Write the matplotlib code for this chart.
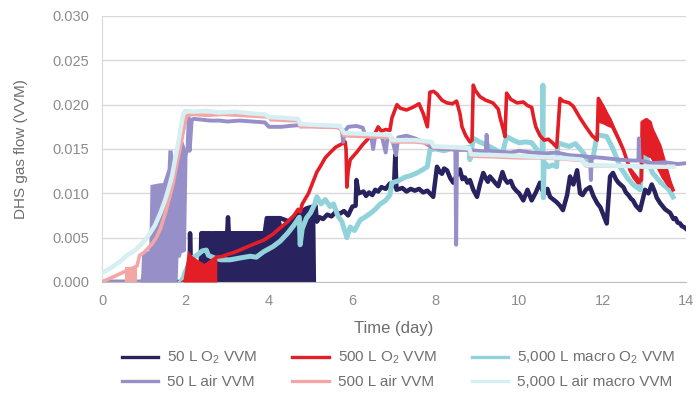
import numpy as np
import matplotlib
matplotlib.use("Agg")
import matplotlib.pyplot as plt
from matplotlib.lines import Line2D

plt.rcParams['font.family'] = ['Liberation Sans', 'DejaVu Sans']
plt.rcParams['mathtext.default'] = 'regular'

# ---- 50 L O2 VVM ----
o2_50_t = [0.0, 2.08, 2.10, 2.11, 2.13, 2.36, 2.38, 2.40, 2.43, 2.46, 2.48, 2.50, 2.54, 2.56, 2.58, 2.62, 2.64, 2.67, 2.70,
           3.0, 3.02, 3.04, 3.9, 3.95, 4.27, 4.5, 4.75, 4.9, 5.12,
           5.15, 5.22, 5.3, 5.4, 5.5, 5.6, 5.7, 5.8, 5.9, 6.0, 6.08, 6.1, 6.15, 6.27, 6.33, 6.4, 6.48, 6.55,
           6.62, 6.7, 6.8, 6.9, 7.0, 7.03, 7.06,
           7.2, 7.3, 7.4, 7.5, 7.6, 7.7, 7.8, 7.94, 8.03, 8.1, 8.15, 8.2, 8.27, 8.35, 8.42, 8.5, 8.58, 8.64,
           8.7, 8.76, 8.82, 8.9, 8.99, 9.06, 9.14, 9.2, 9.25, 9.3, 9.37, 9.44, 9.5,
           9.6, 9.66, 9.72, 9.8, 9.86, 9.93, 10.0, 10.1, 10.2, 10.3, 10.4, 10.5, 10.56, 10.62, 10.68, 10.74,
           10.82, 10.9, 10.98, 11.05, 11.15, 11.22, 11.3,
           11.39, 11.46, 11.52, 11.6, 11.7, 11.78, 11.87, 11.95, 12.0, 12.1, 12.18, 12.25, 12.32, 12.38,
           12.45, 12.5, 12.56, 12.62, 12.68, 12.73, 12.8, 12.9,
           13.02, 13.1, 13.18, 13.25, 13.3, 13.38, 13.45, 13.5, 13.56, 13.62, 13.7, 13.75, 13.8, 13.86,
           13.9, 13.95, 14.0]
o2_50_v = [0.0, 0.0, 0.0, 0.0055, 0.0012, 0.0008, 0.0055, 0.0010, 0.0055, 0.0011, 0.0055, 0.0012, 0.0055, 0.0015, 0.0055,
           0.0010, 0.0055, 0.0012, 0.0055,
           0.0055, 0.0073, 0.0055, 0.0055, 0.0072, 0.0072, 0.0068, 0.0078, 0.0083, 0.0086,
           0.0068, 0.0073, 0.0071, 0.0076, 0.0074, 0.0079, 0.0077, 0.0080, 0.0075, 0.0085, 0.0086, 0.0115,
           0.0100, 0.0102, 0.0097, 0.0101, 0.0098, 0.0104,
           0.0102, 0.0107, 0.0105, 0.0111, 0.0108, 0.0143, 0.0104,
           0.0106, 0.0102, 0.0105, 0.0103, 0.0105, 0.0101, 0.0103, 0.0096, 0.0130, 0.0124, 0.0122, 0.0128,
           0.0126, 0.0117, 0.0112, 0.0120, 0.0127, 0.0116,
           0.0118, 0.0112, 0.0115, 0.0104, 0.0096, 0.0110, 0.0123, 0.0117, 0.0113, 0.0119, 0.0115, 0.0111,
           0.0108,
           0.0124, 0.0116, 0.0112, 0.0114, 0.0107, 0.0103, 0.0100, 0.0092, 0.0104, 0.0092, 0.0101, 0.0112,
           0.0103, 0.0100, 0.0105, 0.0096,
           0.0093, 0.0090, 0.0086, 0.0081, 0.0098, 0.0119, 0.0110,
           0.0126, 0.0100, 0.0098, 0.0104, 0.0107, 0.0097, 0.0089, 0.0084, 0.0078, 0.0066, 0.0119, 0.0123,
           0.0116, 0.0112, 0.0109, 0.0107, 0.0101, 0.0098, 0.0094, 0.0092, 0.0086, 0.0081,
           0.0104, 0.0100, 0.0110, 0.0102, 0.0095, 0.0089, 0.0085, 0.0082, 0.0080, 0.0078, 0.0071, 0.0072,
           0.0067, 0.0066, 0.0063, 0.0062, 0.0060]
o2_50_band_t = [2.70, 3.0, 3.02, 3.04, 3.9, 3.95, 4.27, 4.3, 4.5, 4.75, 4.9, 5.1, 5.12]
o2_50_band_hi = [0.0055, 0.0055, 0.0073, 0.0055, 0.0055, 0.0072, 0.0072, 0.0065, 0.0068, 0.0078, 0.0083, 0.0086, 0.0]

# ---- 500 L O2 VVM ----
o2_500_t = [1.95, 2.75, 2.9, 3.0, 3.15, 3.3, 3.45, 3.55, 3.7, 3.87, 4.0, 4.1, 4.27, 4.45, 4.6, 4.7, 4.75, 4.8,
            4.95, 5.05, 5.15,
            5.23, 5.35, 5.47, 5.6, 5.72, 5.83, 5.85, 5.87, 5.9, 5.95, 6.1, 6.25, 6.35, 6.45, 6.55, 6.62, 6.7,
            6.8, 6.9, 6.95, 7.07, 7.15, 7.3, 7.45, 7.6, 7.7, 7.8, 7.86, 7.95, 8.03, 8.15, 8.27, 8.4, 8.5,
            8.58, 8.63, 8.72, 8.82, 8.87, 8.9, 8.95, 9.06, 9.2, 9.37, 9.5, 9.54, 9.62, 9.66, 9.7, 9.8, 9.95,
            10.1, 10.2, 10.3, 10.35, 10.4, 10.5, 10.6, 10.7, 10.8, 10.9, 10.98, 11.05, 11.2, 11.3, 11.46,
            11.6, 11.75, 11.87, 11.9, 12.02, 12.18, 12.3, 12.4, 12.5, 12.6, 12.66, 12.75, 12.85, 12.93,
            12.95, 13.05, 13.14, 13.25, 13.4, 13.55, 13.69]
o2_500_v = [0.0, 0.0028, 0.0029, 0.0031, 0.0033, 0.0036, 0.0039, 0.0041, 0.0044, 0.0047, 0.0051, 0.0054, 0.0061,
            0.0068, 0.0075, 0.0082, 0.0079, 0.0088,
            0.0100, 0.0112, 0.0124,
            0.0130, 0.0140, 0.0146, 0.0152, 0.0155, 0.0158, 0.0150, 0.0107, 0.0125, 0.0138, 0.0146, 0.0155,
            0.0160, 0.0165, 0.0168, 0.0175, 0.0170,
            0.0172, 0.0171, 0.0185, 0.0200, 0.0196, 0.0194, 0.0197, 0.0201, 0.0190, 0.0175, 0.0214, 0.0215,
            0.0212, 0.0205, 0.0202, 0.0201, 0.0204,
            0.0190, 0.0175, 0.0165, 0.0158, 0.0160, 0.0222, 0.0216, 0.0209, 0.0205, 0.0202, 0.0195, 0.0186,
            0.0172, 0.0164, 0.0213, 0.0206, 0.0202,
            0.0203, 0.0199, 0.0197, 0.0185, 0.0175, 0.0165, 0.0160, 0.0161, 0.0157, 0.0152, 0.0207, 0.0204,
            0.0202, 0.0198, 0.0185,
            0.0175, 0.0165, 0.0160, 0.0207, 0.0197, 0.0182, 0.0170, 0.0160, 0.0149, 0.0135, 0.0126, 0.0118,
            0.0112, 0.0115,
            0.0180, 0.0183, 0.0180, 0.0160, 0.0140, 0.0120, 0.0104]
o2_500_band_t = [1.95, 2.0, 2.05, 2.15, 2.3, 2.45, 2.6, 2.75]
o2_500_band_hi = [0.0005, 0.0020, 0.0036, 0.0030, 0.0025, 0.0021, 0.0025, 0.0028]
o2_500_band2_t = [11.9, 12.02, 12.1, 12.2, 12.5, 12.6, 12.7, 12.9, 12.95, 13.05, 13.14, 13.25, 13.4, 13.55, 13.69]
o2_500_band2_lo = [0.0180, 0.0178, 0.0176, 0.0174, 0.0145, 0.0130, 0.0118, 0.0110, 0.0145, 0.0142, 0.0140, 0.0132,
                   0.0118, 0.0108, 0.0104]
o2_500_band2_hi = [0.0207, 0.0200, 0.0192, 0.0185, 0.0150, 0.0138, 0.0128, 0.0116, 0.0180, 0.0183, 0.0180, 0.0170,
                   0.0155, 0.0130, 0.0106]

# ---- 5,000 L macro O2 VVM ----
o2_5000_t = [1.88, 1.95, 2.0, 2.1, 2.2, 2.3, 2.4, 2.5, 2.55, 2.7, 2.85, 3.07, 3.3, 3.55, 3.7, 3.87, 4.1, 4.27,
             4.45, 4.6, 4.7, 4.73, 4.75, 4.8, 4.9, 5.0, 5.1, 5.15, 5.25, 5.35, 5.47, 5.55, 5.65, 5.75,
             5.87, 5.95, 6.05, 6.19, 6.3, 6.45, 6.55, 6.67, 6.8, 6.9, 6.95, 7.1, 7.25, 7.4, 7.55, 7.7, 7.8,
             7.86, 8.0, 8.2, 8.4, 8.6, 8.8, 8.82, 8.9, 9.05, 9.2, 9.4, 9.55, 9.6, 9.7, 9.85, 10.0, 10.15, 10.3,
             10.45, 10.55, 10.57, 10.58, 10.6, 10.7, 10.8, 10.9, 10.93, 11.05, 11.2, 11.35, 11.46, 11.55,
             11.63, 11.77, 11.87, 12.0, 12.1, 12.25, 12.42, 12.6, 12.73, 12.9, 12.97, 13.05, 13.2, 13.4, 13.6,
             13.69]
o2_5000_v = [0.0, 0.0005, 0.0012, 0.0022, 0.0028, 0.0031, 0.0035, 0.0036, 0.0030, 0.0027, 0.0025, 0.0025,
             0.0027, 0.0029, 0.0028, 0.0034, 0.0040, 0.0046,
             0.0055, 0.0064, 0.0071, 0.0073, 0.0042, 0.0060, 0.0072, 0.0078, 0.0088, 0.0096, 0.0088,
             0.0093, 0.0085, 0.0088, 0.0075, 0.0068,
             0.0050, 0.0062, 0.0058, 0.0070, 0.0073, 0.0078, 0.0082, 0.0088, 0.0092, 0.0098, 0.0112, 0.0114,
             0.0118, 0.0120, 0.0123, 0.0127, 0.0130,
             0.0149, 0.0150, 0.0148, 0.0151, 0.0150, 0.0152, 0.0138, 0.0162, 0.0158, 0.0155, 0.0150, 0.0146,
             0.0145, 0.0164, 0.0160, 0.0157, 0.0158, 0.0157,
             0.0148, 0.0140, 0.0222, 0.0095, 0.0135, 0.0130, 0.0132, 0.0130, 0.0157, 0.0155, 0.0153, 0.0156,
             0.0150, 0.0145,
             0.0138, 0.0140, 0.0166, 0.0165, 0.0164, 0.0150, 0.0130, 0.0117, 0.0110, 0.0104, 0.0149, 0.0140,
             0.0123, 0.0112, 0.0104,
             0.0096]

# ---- 50 L air VVM ----
air_50_t = [0.0, 0.95, 2.05, 2.08, 2.1, 2.15, 2.2, 2.4, 2.6, 2.83, 3.0, 3.3, 3.6, 3.9, 4.0, 4.3, 4.5, 4.75, 5.0,
            5.3, 5.6, 5.75, 5.78, 5.82, 5.9, 6.1, 6.25, 6.3, 6.45, 6.5, 6.55, 6.7, 6.8, 6.85, 6.95, 7.05, 7.1,
            7.3, 7.5, 7.7, 7.9, 8.1, 8.3, 8.47, 8.49, 8.51, 8.7, 9.0, 9.2, 9.22, 9.25, 9.5, 9.8, 10.0, 10.3,
            10.6, 10.9, 11.2, 11.5, 11.7, 11.72, 11.74, 12.0, 12.4, 12.7, 12.86, 12.87, 12.89, 13.2, 13.5,
            13.8, 14.0]
air_50_v = [0.0, 0.0, 0.0150, 0.0185, 0.0148, 0.0183, 0.0184, 0.0183, 0.0182, 0.0182, 0.0181, 0.0182, 0.0181,
            0.0180, 0.0175, 0.0175, 0.0176, 0.0177, 0.0176,
            0.0175, 0.0176, 0.0172, 0.0158, 0.0170, 0.0175, 0.0176, 0.0174, 0.0167, 0.0165, 0.0150, 0.0165,
            0.0166, 0.0146, 0.0165, 0.0162, 0.0143, 0.0163,
            0.0165, 0.0162, 0.0158, 0.0152, 0.0150, 0.0150, 0.0149, 0.0042, 0.0149, 0.0149, 0.0148, 0.0147,
            0.0166, 0.0148, 0.0147, 0.0146, 0.0148, 0.0146,
            0.0145, 0.0146, 0.0143, 0.0142, 0.0141, 0.0115, 0.0141, 0.0140, 0.0138, 0.0137, 0.0137, 0.0162,
            0.0137, 0.0134, 0.0135,
            0.0133, 0.0134]
air_50_band_t = [0.92, 0.95, 1.03, 1.12, 1.15, 1.39, 1.45, 1.56, 1.58, 1.68, 1.70, 1.80, 1.82, 1.87, 1.90, 2.0,
                 2.04]
air_50_band_lo = [0.0, 0.0, 0.0, 0.0, 0.0, 0.0, 0.0, 0.0, 0.0, 0.0, 0.0, 0.0, 0.0028, 0.0028, 0.0033, 0.0035,
                  0.0150]
air_50_band_hi = [0.0, 0.0033, 0.0034, 0.0036, 0.0110, 0.0112, 0.0112, 0.0128, 0.0149, 0.0149, 0.0140, 0.0140,
                  0.0143, 0.0160, 0.0164, 0.0150, 0.0185]

# ---- 500 L air VVM ----
air_500_t = [0.0, 0.84, 0.9, 1.0, 1.1, 1.2, 1.3, 1.4, 1.5, 1.6, 1.7, 1.8, 1.87, 1.95, 2.0, 2.04, 2.2, 2.5, 2.9,
             3.3, 3.7, 4.0, 4.05, 4.5, 4.7, 4.75, 5.3, 5.7, 5.8, 6.3, 6.9, 6.95, 7.5, 7.9, 7.95, 8.5, 8.8, 8.85,
             9.5, 10.0, 10.5, 11.0, 11.5, 11.6, 12.5, 13.0, 13.7]
air_500_v = [0.0, 0.0018, 0.0030, 0.0033, 0.0038, 0.0043, 0.0050, 0.0060, 0.0075, 0.0092, 0.0110, 0.0135, 0.0150,
             0.0170, 0.0182, 0.0188, 0.0189, 0.0188, 0.0189,
             0.0188, 0.0187, 0.0186, 0.0183, 0.0182, 0.0182, 0.0175, 0.0175, 0.0174, 0.0165, 0.0164, 0.0163,
             0.0158, 0.0158, 0.0156, 0.0152, 0.0151, 0.0150, 0.0142,
             0.0141, 0.0140, 0.0140, 0.0139, 0.0137, 0.0131, 0.0131, 0.0130, 0.0130]
air_500_band_t = [0.55, 0.84]
air_500_band_hi = [0.0017, 0.0017]

# ---- 5,000 L air macro VVM ----
air_5000_t = [0.0, 0.1, 0.25, 0.43, 0.6, 0.8, 0.95, 1.03, 1.15, 1.27, 1.4, 1.51, 1.6, 1.68, 1.75, 1.82, 1.88,
              1.94, 1.99, 2.2, 2.5, 2.8, 3.2, 3.6, 3.9, 4.0, 4.4, 4.7, 4.75, 5.2, 5.7, 5.8, 6.3, 6.9, 6.95, 7.5,
              7.9, 7.95, 8.5, 8.8, 8.85, 9.5, 10.0, 10.5, 11.0, 11.5, 11.6, 12.5, 13.0, 13.69]
air_5000_v = [0.0010, 0.0013, 0.0017, 0.0023, 0.0030, 0.0036, 0.0043, 0.0047, 0.0055, 0.0064, 0.0078, 0.0092,
              0.0106, 0.0120, 0.0138, 0.0155, 0.0172,
              0.0188, 0.0193, 0.0192, 0.0193, 0.0191, 0.0192, 0.0190, 0.0189, 0.0186, 0.0185, 0.0184, 0.0178,
              0.0177, 0.0176, 0.0168, 0.0167, 0.0166, 0.0160, 0.0160,
              0.0158, 0.0153, 0.0152, 0.0151, 0.0144, 0.0143, 0.0142, 0.0141, 0.0140, 0.0138, 0.0132, 0.0131,
              0.0130, 0.0130]

labels = ["50 L O$_2$ VVM", "500 L O$_2$ VVM", "5,000 L macro O$_2$ VVM",
          "50 L air VVM", "500 L air VVM", "5,000 L air macro VVM"]
colors = ["#28235f", "#e41e26", "#92d2da", "#9790c8", "#f4a6a6", "#d6eff3"]

fig = plt.figure(figsize=(6.96, 3.94), dpi=100)
ax = fig.add_axes([0.1466, 0.2843, 0.839, 0.6751])

# 50 L O2
ax.fill_between(o2_50_band_t, 0, o2_50_band_hi, color=colors[0], lw=0, zorder=2)
ax.plot(o2_50_t, o2_50_v, color=colors[0], lw=3.2, zorder=2)
# 5,000 L O2
ax.plot(o2_5000_t, o2_5000_v, color=colors[2], lw=3.6, zorder=3)
# 500 L O2
ax.fill_between(o2_500_band_t, 0, o2_500_band_hi, color=colors[1], lw=0, zorder=4)
ax.fill_between(o2_500_band2_t, o2_500_band2_lo, o2_500_band2_hi, color=colors[1], lw=0, zorder=4)
ax.plot(o2_500_t, o2_500_v, color=colors[1], lw=2.6, zorder=4)
# 50 L air
ax.fill_between(air_50_band_t, air_50_band_lo, air_50_band_hi, color=colors[3], lw=0, zorder=5)
ax.plot(air_50_t, air_50_v, color=colors[3], lw=2.8, zorder=5)
# 500 L air
ax.fill_between(air_500_band_t, 0, air_500_band_hi, color=colors[4], lw=0, zorder=6)
ax.plot(air_500_t, air_500_v, color=colors[4], lw=2.6, zorder=6)
# 5,000 L air
ax.plot(air_5000_t, air_5000_v, color=colors[5], lw=3.2, zorder=7)

ax.set_xlim(0, 14)
ax.set_ylim(0, 0.030)
ax.set_xticks(np.arange(0, 15, 2))
ax.set_yticks(np.arange(0, 0.0301, 0.005))
ax.yaxis.set_major_formatter(plt.FuncFormatter(lambda v, p: f"{v:.3f}"))
ax.grid(axis='y', color='#d9d9d9', lw=1)
ax.set_axisbelow(True)
for s in ['top', 'right']:
    ax.spines[s].set_visible(False)
ax.spines['left'].set_color('#d9d9d9')
ax.spines['bottom'].set_color('#bfbfbf')
ax.tick_params(length=0, labelsize=10.5, colors='#8c8c8c')
ax.tick_params(axis='x', pad=9)
ax.tick_params(axis='y', pad=9)
ax.set_xlabel("Time (day)", fontsize=12, color='#6d6d6d', labelpad=9)
ax.set_ylabel("DHS gas flow (VVM)", fontsize=11, color='#6d6d6d', labelpad=18)

handles = [Line2D([], [], color=c, lw=2.4) for c in colors]
order = [0, 3, 1, 4, 2, 5]
fig.legend([handles[i] for i in order], [labels[i] for i in order], ncol=3, frameon=False,
           loc='upper left', bbox_to_anchor=(0.175, 0.112), fontsize=11, labelcolor='#707070',
           handlelength=2.36, handletextpad=0.6, columnspacing=2.3, labelspacing=0.6,
           borderaxespad=0, borderpad=0)

fig.savefig("out.png", dpi=100)
